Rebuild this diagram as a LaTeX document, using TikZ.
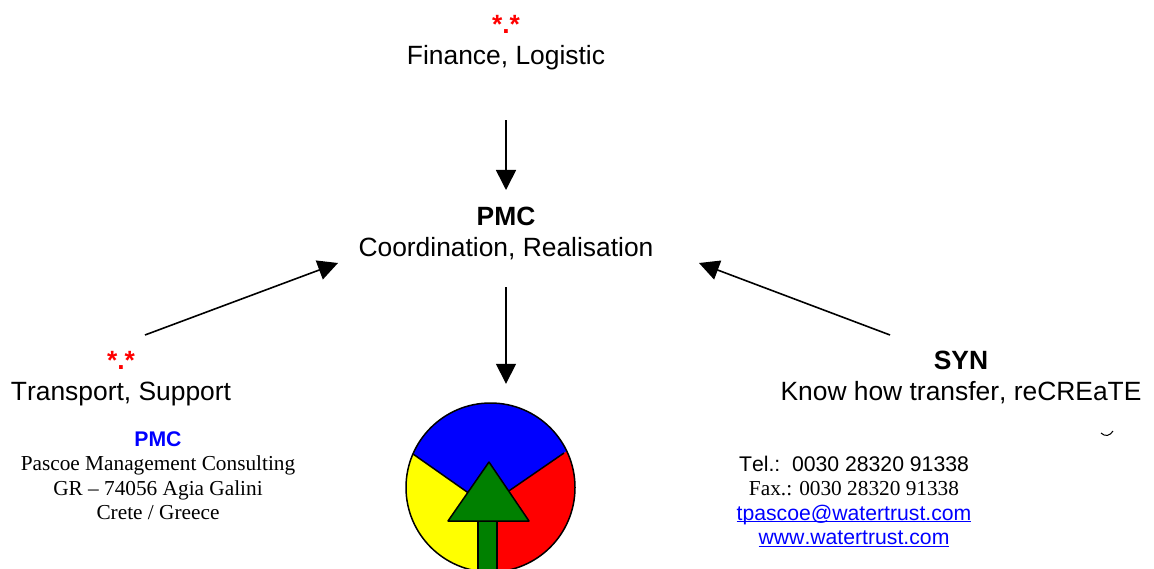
\documentclass[tikz,border=0pt]{standalone}
\usepackage{fontspec}
\setmainfont[Kerning=Off]{Liberation Sans}
\newfontfamily\paperfont{Liberation Serif}
\usetikzlibrary{arrows.meta}
\definecolor{link_blue}{RGB}{0,0,255}
\definecolor{mark_red}{RGB}{255,0,0}
\definecolor{logo_green}{RGB}{0,128,0}
\definecolor{logo_yellow}{RGB}{255,255,0}
\newcommand{\smallsans}{\fontsize{21.2}{24.5}\selectfont\rmfamily}
\newcommand{\linked}[1]{{\smallsans\color{link_blue}\underline{\smash{#1}}}}
\tikzset{
  big_font/.style = {font=\fontsize{26.4}{31}\selectfont},
  paper_font/.style = {font=\fontsize{21.3}{24.5}\selectfont\paperfont}
}
\tikzset{
  actor/.style = {big_font, align=center, inner sep=0, anchor=north},
  address/.style = {paper_font, align=center, inner sep=0, anchor=north},
  flow/.style = {line width=1.6pt, -{Triangle[length=20pt,width=20pt]}},
  logo_part/.style = {draw=black, line width=1.5pt}
}
\newcommand{\redstars}{{\color{mark_red}\textbf{*.*}}}
\begin{document}
\begin{tikzpicture}[x=1pt, y=-1pt]
    \useasboundingbox (0,0) rectangle (1154,569);

    % Actors
    \node[actor] at (506,15) (finance) {
        \redstars \\ Finance, Logistic};
    \node[actor] at (506,207) (pmc) {
        \textbf{PMC} \\ Coordination, Realisation};
    \node[actor] at (121,351) (transport) {
        \redstars \\ Transport, Support};
    \node[actor] at (961,351) (syn) {
        \textbf{SYN} \\ Know how transfer, reCREaTE};

    % Address blocks
    \node[address] at (158,431) (consult) {
        {\smallsans\color{link_blue}\textbf{PMC}} \\
        Pascoe Management Consulting \\
        GR – 74056 Agia Galini \\
        Crete / Greece};
    \node[address] at (854,455.5) (contact) {
        {\smallsans Tel.:\ \ 0030 28320 91338} \\
        Fax.: 0030 28320 91338 \\
        \linked{tpascoe@watertrust.com} \\
        \linked{www.watertrust.com}};

    % Logo
    \node[circle, minimum size=169, inner sep=0] at (490.5,487.5) (logo) {};
    \begin{scope}
        \clip (0,0) rectangle (1154,569);
        \begin{scope}
            \clip (logo.center) circle (84.5);
            \fill[logo_yellow] (400,400) rectangle (600,580);
            \fill[mark_red] (487,506) -- (600,428) -- (600,580) -- (487,580) -- cycle;
            \fill[link_blue] (487,506) -- (380,431) -- (380,395) -- (600,395) -- (600,428) -- cycle;
        \end{scope}
        \draw[logo_part] (logo.center) circle (84.5);
        \draw[logo_part] (413,454) -- (487,506) -- (564,453);
        \draw[logo_part, fill=logo_green] (478,521) rectangle (497,575);
        \draw[logo_part, fill=logo_green, line join=round] (489,462) -- (529,521) -- (448,521) -- cycle;
    \end{scope}

    % Arrows and lines
    \draw[flow] ([shift={(0,50)}]finance.south) -- ([shift={(0,-17)}]pmc.north);
    \draw[flow] ([shift={(0,27)}]pmc.south) -- ([shift={(15.5,-19)}]logo.north);
    \draw[flow] ([shift={(24,-16)}]transport.north) -- ([shift={(-168,56)}]pmc.north);
    \draw[flow] ([shift={(-71,-16)}]syn.north) -- ([shift={(193,56)}]pmc.north);

    % Stray mark
    \draw[line width=1pt] (1101,433) .. controls (1105,437) and (1110,436) .. (1113,431);
\end{tikzpicture}
\end{document}
